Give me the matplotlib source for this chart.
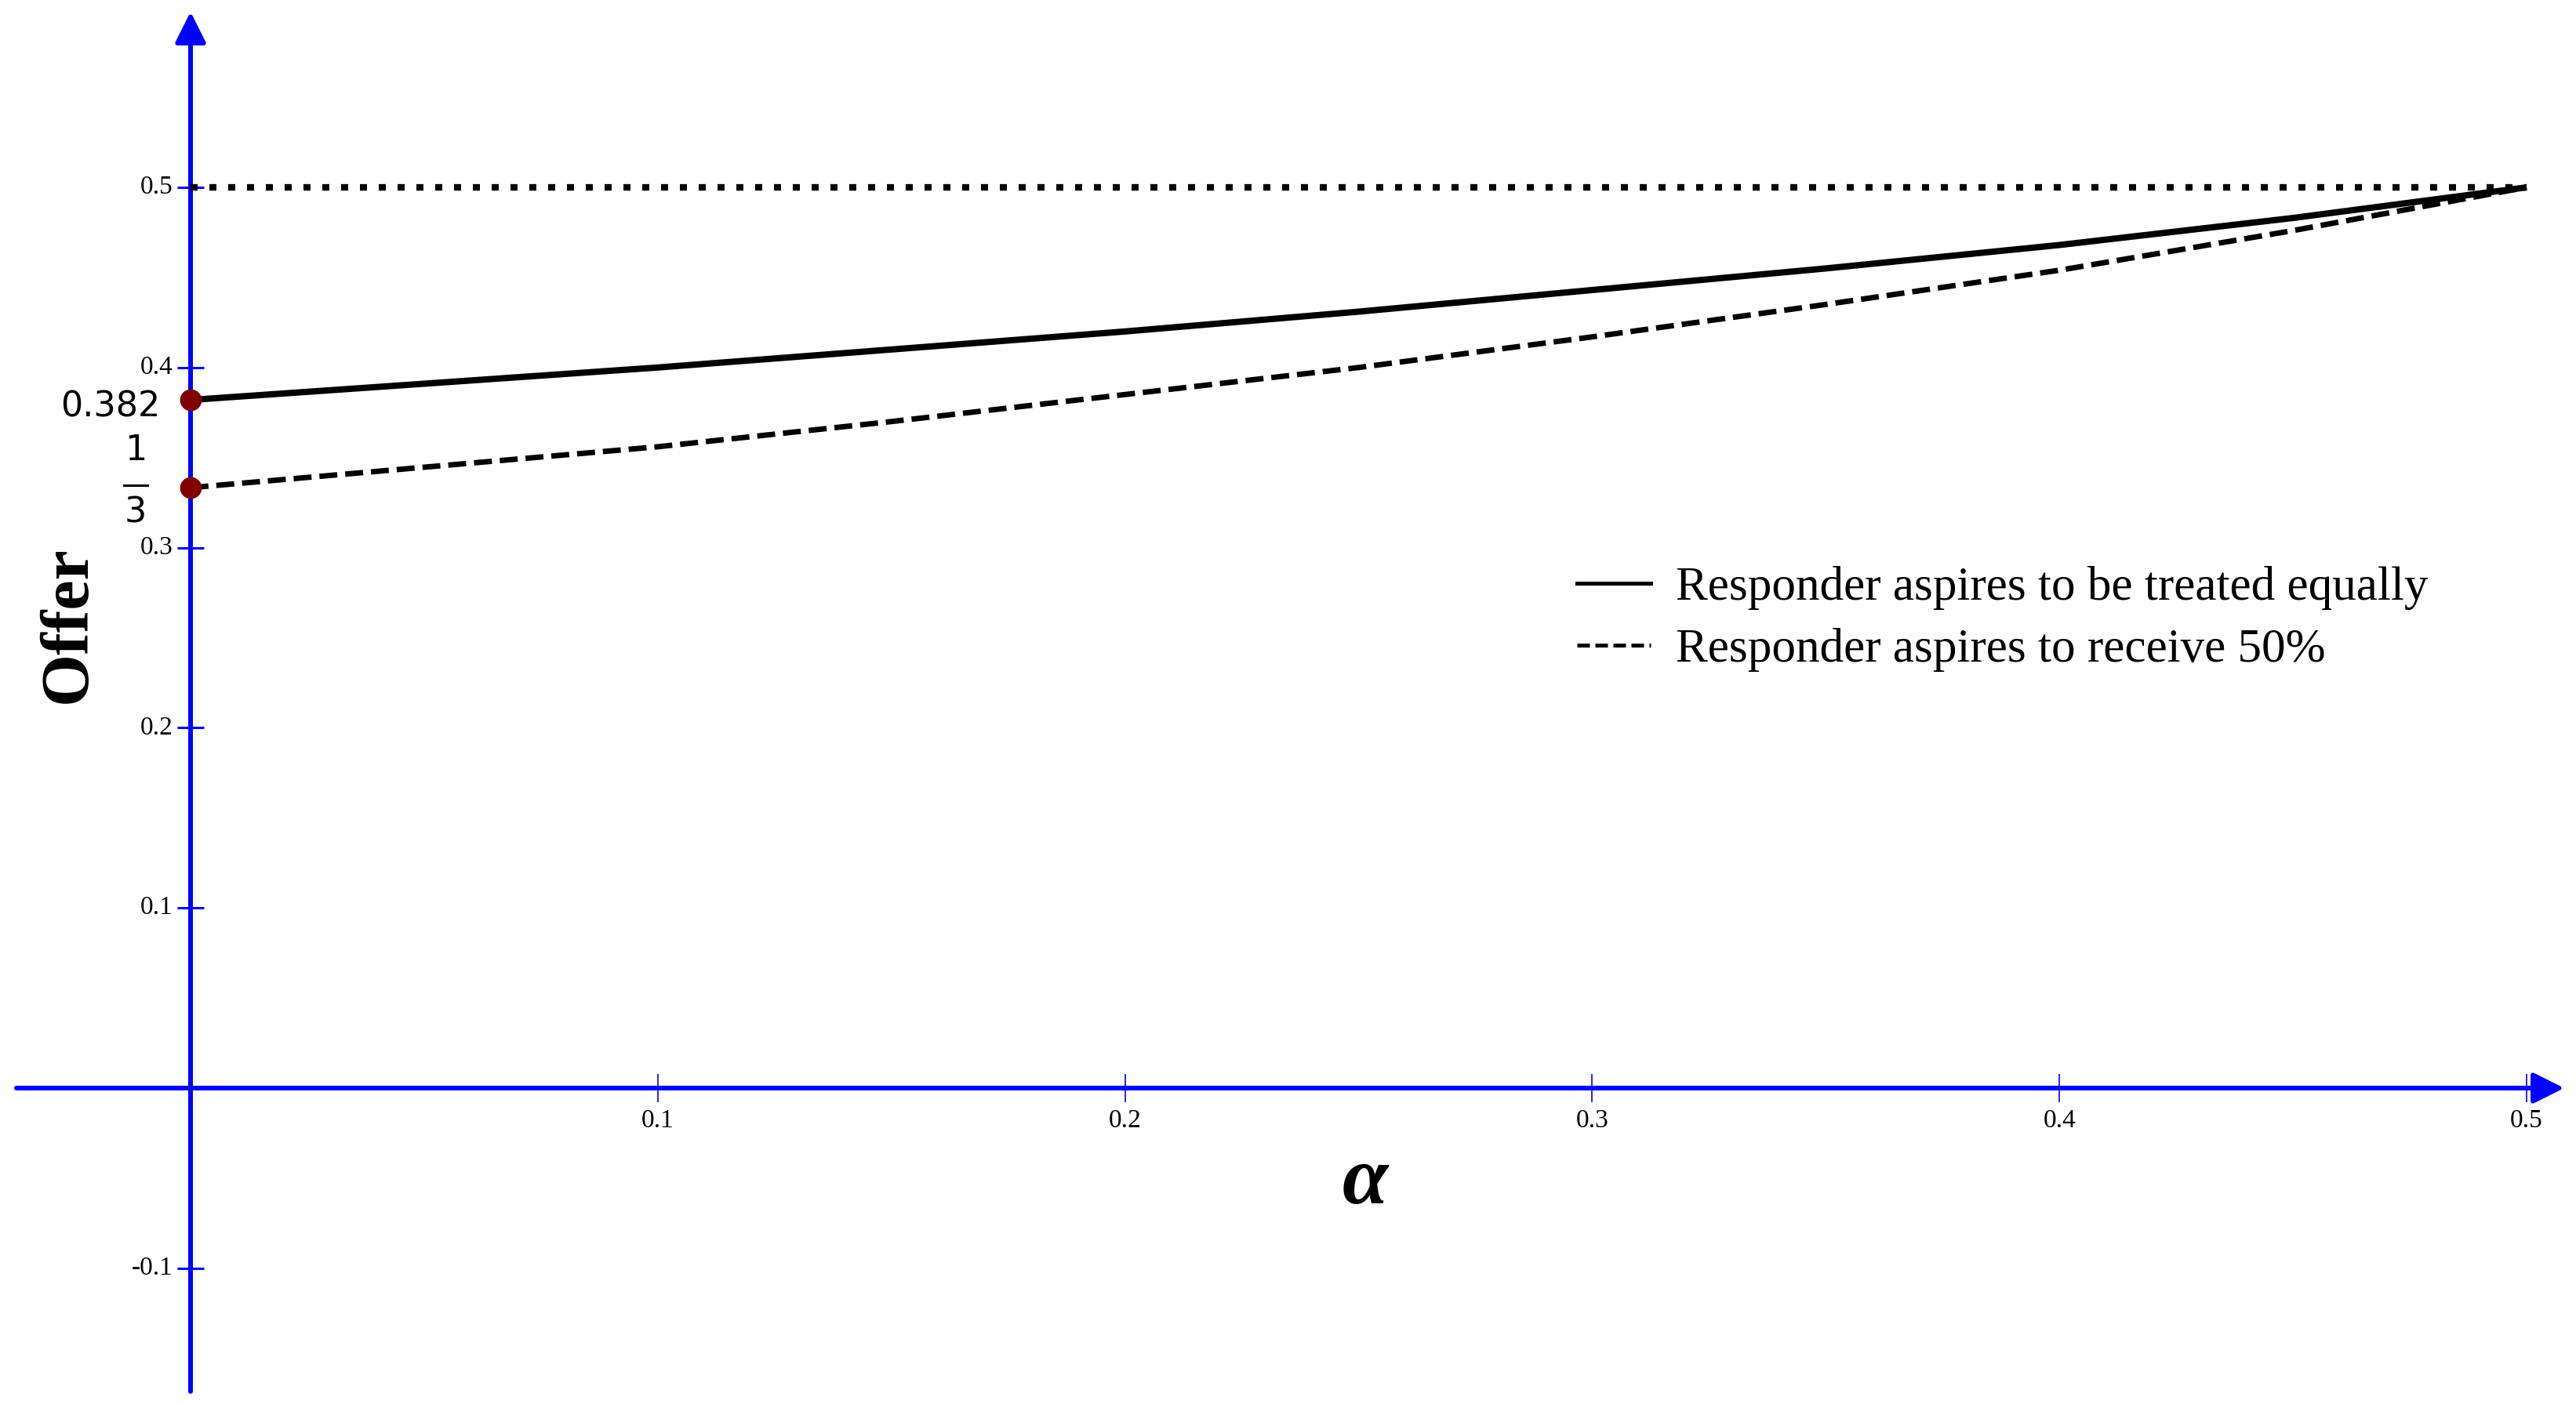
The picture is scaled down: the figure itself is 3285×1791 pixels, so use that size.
import matplotlib
matplotlib.use("Agg")
import matplotlib.pyplot as plt
import matplotlib.transforms as mtransforms
from matplotlib.lines import Line2D

# ---------------- data ----------------
alpha = [0.0, 0.10, 0.15, 0.20, 0.25, 0.30, 0.35, 0.40, 0.45, 0.50]
offer_equal = [0.382, 0.400, 0.410, 0.420, 0.431, 0.443, 0.455, 0.468, 0.483, 0.500]
offer_half = [0.3333, 0.356, 0.370, 0.385, 0.400, 0.417, 0.435, 0.454, 0.476, 0.500]
fair_x = [0.0, 0.5]
fair_y = [0.5, 0.5]
marked_y = [0.382, 1 / 3]
x_ticks = [0.1, 0.2, 0.3, 0.4, 0.5]
x_tick_labels = ["0.1", "0.2", "0.3", "0.4", "0.5"]
y_ticks = [-0.1, 0.1, 0.2, 0.3, 0.4, 0.5]
y_tick_labels = ["-0.1", "0.1", "0.2", "0.3", "0.4", "0.5"]
legend_labels = ["Responder aspires to be treated equally",
                 "Responder aspires to receive 50%"]

# ---------------- layout ----------------
W, H = 3285, 1791
DPI = 100
X0_PX, PX_PER_X = 243, 5958.0     # pixel column of alpha=0, pixels per unit
Y0_PX, PX_PER_Y = 1388, 2298.0    # pixel row of offer=0, pixels per unit
BLUE = "#0000FF"
SERIF = ["Liberation Serif", "DejaVu Serif"]

fig = plt.figure(figsize=(W / DPI, H / DPI), dpi=DPI)
fig.patch.set_facecolor("white")
ax = fig.add_axes([0, 0, 1, 1])
ax.set_xlim(-X0_PX / PX_PER_X, (W - X0_PX) / PX_PER_X)
ax.set_ylim(-(H - Y0_PX) / PX_PER_Y, Y0_PX / PX_PER_Y)
ax.axis("off")


def dx(px):
    return px / PX_PER_X


def dy(px):
    return px / PX_PER_Y


def off(tx, ty):
    return ax.transData + mtransforms.Affine2D().translate(tx, ty)


# axes lines with arrows
arrow_style = "-|>,head_length=0.8,head_width=0.4"
ax.annotate("", xy=(dx(3270 - X0_PX), 0), xytext=(dx(21 - X0_PX), 0),
            arrowprops=dict(arrowstyle=arrow_style, color=BLUE, lw=4.3,
                            shrinkA=0, shrinkB=0, mutation_scale=30), zorder=2)
ax.annotate("", xy=(0, dy(Y0_PX - 15)), xytext=(0, -dy(1775 - Y0_PX)),
            arrowprops=dict(arrowstyle=arrow_style, color=BLUE, lw=4.3,
                            shrinkA=0, shrinkB=0, mutation_scale=30), zorder=2)

# ticks
ax.plot(x_ticks, [0] * len(x_ticks), linestyle="none", marker="|",
        markersize=26, markeredgewidth=1.2, color=BLUE, zorder=3)
ax.plot([0] * len(y_ticks), y_ticks, linestyle="none", marker="_",
        markersize=25, markeredgewidth=2.2, color=BLUE, zorder=3)
for xt, lab in zip(x_ticks, x_tick_labels):
    ax.text(xt, 0, lab, transform=off(0, -26), ha="center", va="top",
            fontsize=24, family=SERIF, color="black", zorder=4)
for yt, lab in zip(y_ticks, y_tick_labels):
    ax.text(0, yt, lab, transform=off(-22, 0), ha="right", va="center",
            fontsize=24, family=SERIF, color="black", zorder=4)

# curves
ax.plot(fair_x, fair_y, color="black", lw=6, linestyle=(0, (1.08, 1.8)),
        dash_capstyle="butt", zorder=5)
ax.plot(alpha, offer_equal, color="black", lw=5.8, solid_capstyle="butt",
        solid_joinstyle="round", zorder=6, label=legend_labels[0])
ax.plot(alpha, offer_half, color="black", lw=5.0, linestyle=(0, (3.3, 1.45)),
        dash_capstyle="butt", zorder=6, label=legend_labels[1])
ax.plot([0] * len(marked_y), marked_y, linestyle="none", marker="o",
        markersize=20, color="#800000", markeredgewidth=0, zorder=7)

# special value labels
ax.text(0, marked_y[0], "0.382", transform=off(-102, -9), ha="center",
        va="center", fontsize=32, family=["DejaVu Sans"], color="black",
        zorder=8)
ax.text(0, marked_y[1], "1", transform=off(-70, 47), ha="center",
        va="center", fontsize=32, family=["DejaVu Sans"], color="black",
        zorder=8)
ax.text(0, marked_y[1], "3", transform=off(-70, -32), ha="center",
        va="center", fontsize=32, family=["DejaVu Sans"], color="black",
        zorder=8, bbox=dict(facecolor="white", edgecolor="none", pad=4))
# bar of the fraction 1/3 (short line in pixels next to the marked point)
bx, by = ax.transData.transform((0, marked_y[1]))
fig.add_artist(Line2D([bx - 85, bx - 55], [by + 3, by + 3], color="black",
                      lw=2.2, transform=mtransforms.IdentityTransform()))

# axis titles
fig.text(88 / W, 1 - 797 / H, "Offer", rotation=90, ha="center", va="center",
         fontsize=62, fontweight="bold", family=SERIF, color="black")
fig.text(1741 / W, 1 - 1535 / H, "α", ha="center", va="baseline",
         fontsize=76, fontweight="bold", fontstyle="italic", family=SERIF,
         color="black")

# legend
handles = [Line2D([], [], color="black", lw=3.6),
           Line2D([], [], color="black", lw=3.6, linestyle=(0, (3.2, 1.4)),
                  dash_capstyle="butt")]
leg = ax.legend(handles, legend_labels, loc="upper left",
                bbox_to_anchor=(2011 / W, 1 - 722 / H),
                bbox_transform=fig.transFigure, frameon=False,
                prop=dict(family=SERIF, size=44), handlelength=1.54,
                handletextpad=0.52, labelspacing=0.38, borderpad=0,
                borderaxespad=0)

fig.savefig("out.png", dpi=DPI, facecolor="white")
